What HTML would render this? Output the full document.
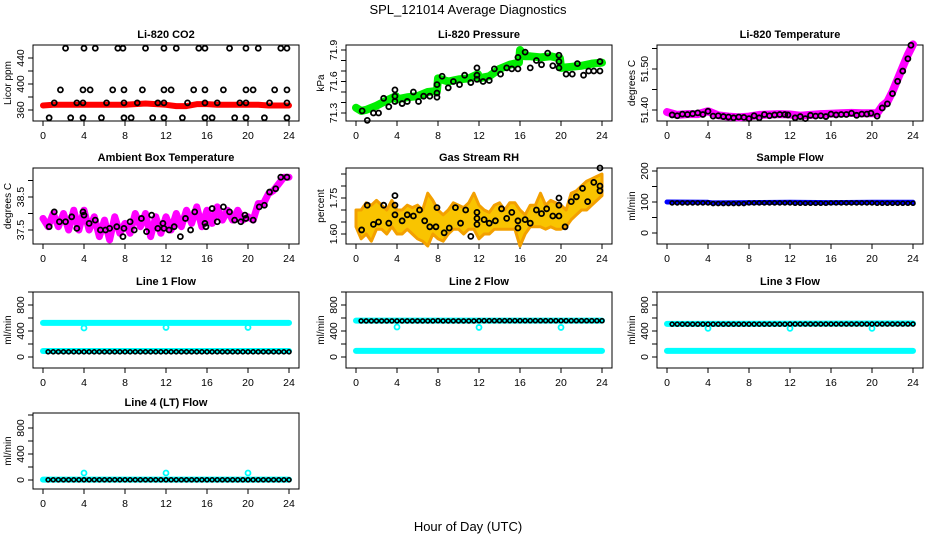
<!DOCTYPE html>
<html><head><meta charset="utf-8">
<style>
html,body{margin:0;padding:0;background:#fff;}
svg{display:block;font-family:"Liberation Sans",sans-serif;}
</style></head>
<body>
<svg id="chart" width="936" height="540" viewBox="0 0 936 540" xmlns="http://www.w3.org/2000/svg">
<rect x="0" y="0" width="936" height="540" fill="#fff"/>
<text x="468" y="14" text-anchor="middle" font-size="13">SPL_121014  Average Diagnostics</text>
<text x="468" y="531" text-anchor="middle" font-size="13">Hour of Day (UTC)</text>
</svg>
<script>
// ---------- data ----------
const xTicks=[0,4,8,12,16,20,24];
// CO2
const co2BandHours=[0,1,2,3,4,5,6,7,8,9,10,11,12,13,14,15,16,17,18,19,20,21,22,23,24];
const co2BandVals=[367,368,368,368,368,368,368,368,368,369,370,369,368,366,366,369,369,368,368,368,368,368,367,367,367];
const co2PtHours=[2.2,4,5.1,7.3,7.8,10,11.8,13,15.2,15.8,18.2,19.8,21,23.2,23.8,
 1.7,3.9,4.6,6.8,7.9,9.7,11.8,12.5,14.7,15.8,17.6,19.8,20.5,22.6,23.8,
 1.1,3.3,3.9,6.2,7.9,9.2,11.2,11.8,14.1,15.8,17,19.2,19.8,22.1,23.8,
 0.6,2.7,3.9,5.7,7.9,8.6,10.7,11.8,13.6,15.8,16.5,18.7,19.8,21.6,23.8];
const co2PtVals=[455,455,455,455,455,455,455,455,455,455,455,455,455,455,455,
 391,391,391,391,391,391,391,391,391,391,391,391,391,391,391,
 371,371,371,371,371,371,371,371,371,371,371,371,371,371,371,
 348,348,348,348,348,348,348,348,348,348,348,348,348,348,348];
// Pressure
const presBandHours=[0,0.5,1,2,3,3.9,4,5,6,7,7.9,8,9,10,11,11.9,12,13,14,15,15.9,16,16.5,17,18,19,19.9,20,21,22,23,24];
const presBandVals=[71.35,71.32,71.33,71.37,71.42,71.46,71.43,71.45,71.46,71.50,71.51,71.63,71.60,71.62,71.63,71.67,71.63,71.65,71.72,71.76,71.78,71.90,71.84,71.84,71.83,71.84,71.82,71.73,71.74,71.75,71.77,71.78];
const presPtHours=[0.6,1.1,1.7,2.2,2.7,3.2,3.8,3.8,3.8,4.5,5,5.6,6.1,6.6,7.2,7.9,7.9,7.9,8.4,9,9.5,10.1,10.6,11.2,11.8,11.8,11.8,12.4,13,13.5,14.1,14.7,15.2,15.8,15.8,16.5,17,17.6,18.1,18.7,19.2,19.8,19.8,19.8,20.5,21.1,21.6,22.2,22.7,23.2,23.8,23.8];
const presPtVals=[71.32,71.23,71.30,71.30,71.44,71.36,71.52,71.46,71.41,71.39,71.41,71.50,71.41,71.46,71.46,71.57,71.49,71.45,71.65,71.54,71.60,71.57,71.66,71.59,71.73,71.66,71.62,71.60,71.61,71.72,71.67,71.73,71.72,71.83,71.72,71.88,71.73,71.80,71.76,71.87,71.75,71.85,71.79,71.73,71.67,71.67,71.77,71.66,71.70,71.70,71.70,71.79];
// Li-820 temperature
const tempBandHours=[0,1,2,3,4,5,6,7,8,9,10,11,12,13,14,15,16,17,18,19,20,20.5,21,21.5,22,22.5,23,23.5,24];
const tempBandVals=[51.395,51.388,51.39,51.39,51.397,51.387,51.384,51.382,51.384,51.388,51.389,51.39,51.389,51.386,51.388,51.39,51.391,51.392,51.393,51.392,51.392,51.392,51.41,51.42,51.445,51.475,51.505,51.535,51.56];
const tempPtHours=[0.5,1,1.5,2,2.5,3,3.5,4,4.5,5,5.5,6,6.5,7,7.5,8,8.5,9,9.5,10,10.5,11,11.5,11.8,12.5,13,13.5,14,14.5,15,15.5,16,16.5,17,17.5,18,18.5,19,19.5,19.9,20.5,21,21.5,22,22.5,23,23.5,23.8];
const tempPtVals=[51.388,51.386,51.39,51.389,51.391,51.393,51.389,51.397,51.385,51.386,51.384,51.383,51.381,51.383,51.382,51.379,51.386,51.381,51.389,51.386,51.388,51.389,51.389,51.388,51.381,51.384,51.379,51.387,51.385,51.386,51.384,51.39,51.388,51.389,51.389,51.392,51.387,51.39,51.39,51.392,51.385,51.405,51.415,51.44,51.47,51.495,51.525,51.558];
// Ambient
const ambBandHours=[0,0.5,1,1.5,2,2.5,3,3.5,4,4.5,5,5.5,6,6.5,7,7.5,8,8.5,9,9.5,10,10.5,11,11.5,12,12.5,13,13.5,14,14.5,15,15.5,16,16.5,17,17.5,18,18.5,19,19.5,20,20.5,21,21.5,22,22.5,23,23.5,24];
const ambBandVals=[37.85,37.6,38.0,37.6,38.0,37.5,38.1,37.5,38.1,37.5,37.9,37.3,37.8,37.2,37.9,37.4,37.7,37.4,38.0,37.6,38.0,37.3,37.9,37.4,37.9,37.5,38.0,37.6,38.1,37.7,38.2,37.6,38.1,37.7,38.2,37.8,38.1,37.8,38.1,37.8,37.9,37.8,38.3,38.3,38.6,38.7,38.9,39.1,39.1];
const ambPtHours=[0.6,1.1,1.6,2.2,2.8,3.3,3.9,4,4.5,5.1,5.6,6.1,6.5,7.2,7.8,7.9,8.5,8.9,9.6,10.1,10.6,11.2,11.7,11.8,12.3,12.8,13.4,13.9,14.4,14.8,15.8,15.9,16.5,17,17.6,18.2,18.7,19.3,19.7,19.8,20.5,21.1,21.6,22.1,22.7,23.2,23.8];
const ambPtVals=[37.6,38.05,37.75,37.75,37.9,37.55,38.05,37.95,37.7,37.8,37.5,37.5,37.55,37.6,37.3,37.55,37.75,37.5,37.85,37.45,37.95,37.55,37.7,37.55,37.5,37.6,37.3,37.85,37.5,38.05,37.7,37.6,38.15,37.75,38.2,38.05,37.8,37.75,37.95,37.85,37.8,38.2,38.25,38.65,38.75,39.1,39.1];
// Gas stream RH
const rhBandHours=[0,0.5,1,1.5,2,2.5,3,3.5,4,4.5,5,5.5,6,6.5,7,7.5,8,8.5,9,9.5,10,10.5,11,11.5,12,12.5,13,13.5,14,14.5,15,15.5,16,16.5,17,17.5,18,18.5,19,19.5,20,20.5,21,21.5,22,22.5,23,23.5,24];
const rhBandHi=[1.70,1.70,1.73,1.72,1.74,1.72,1.70,1.74,1.70,1.70,1.72,1.71,1.72,1.70,1.77,1.74,1.70,1.68,1.70,1.73,1.72,1.71,1.73,1.77,1.72,1.70,1.69,1.72,1.73,1.70,1.73,1.73,1.70,1.68,1.72,1.72,1.77,1.72,1.74,1.73,1.72,1.70,1.77,1.78,1.80,1.82,1.83,1.84,1.85];
const rhBandLo=[1.63,1.58,1.60,1.57,1.62,1.62,1.60,1.63,1.60,1.60,1.62,1.60,1.58,1.57,1.55,1.60,1.58,1.57,1.60,1.62,1.62,1.60,1.62,1.62,1.58,1.60,1.60,1.62,1.62,1.62,1.62,1.62,1.55,1.60,1.63,1.63,1.63,1.62,1.63,1.62,1.62,1.63,1.66,1.68,1.70,1.70,1.72,1.74,1.76];
const rhPtHours=[0.55,1.1,1.7,2.2,2.7,3.2,3.8,3.8,3.8,4.5,5,5.6,6.2,6.7,7.2,7.8,7.9,8.6,9.1,9.7,10.2,10.7,11.2,11.8,11.8,11.8,12.5,13,13.6,14.2,14.7,15.2,15.8,15.8,16.5,17,17.6,18.1,18.6,19.2,19.8,19.8,19.8,20.4,21,21.5,22.1,22.6,23.2,23.8,23.8,23.8];
const rhPtVals=[1.617,1.72,1.64,1.65,1.72,1.645,1.76,1.72,1.68,1.655,1.68,1.675,1.70,1.655,1.63,1.63,1.71,1.605,1.625,1.71,1.645,1.70,1.59,1.69,1.665,1.64,1.66,1.645,1.655,1.705,1.665,1.69,1.655,1.625,1.66,1.645,1.70,1.685,1.705,1.675,1.75,1.72,1.675,1.63,1.735,1.755,1.79,1.735,1.815,1.875,1.80,1.78];
// Flows (48 half-hour samples)
const flowHours=[0.5,1,1.5,2,2.5,3,3.5,4,4.5,5,5.5,6,6.5,7,7.5,8,8.5,9,9.5,10,10.5,11,11.5,12,12.5,13,13.5,14,14.5,15,15.5,16,16.5,17,17.5,18,18.5,19,19.5,20,20.5,21,21.5,22,22.5,23,23.5,24];
const sampleBandHours=[0,4,4.5,8,12,16,20,24];
const sampleBandVals=[100,99,97,98,99,98,99,99];
const sampleVals=[97,97,97,97,97,97,97,97,95,95,95,95,95,95,95,97,97,97,97,97,97,97,97,97,96,96,96,96,96,96,96,97,97,97,97,97,97,97,97,97,96,96,96,96,96,96,96,96];
const dipHours=[4,12,20];
const line1HiHours=[0,24];const line1HiVals=[525,525];
const line1LoHours=[0,24];const line1LoVals=[92,92];
const line1Dips=[446,455,455];
const line1Vals=[80,80,80,80,80,80,80,80,80,80,80,80,80,80,80,80,80,80,80,80,80,80,80,80,80,80,80,80,80,80,80,80,80,80,80,80,80,80,80,80,80,80,80,80,80,80,80,80];
const line2HiHours=[0,24];const line2HiVals=[560,560];
const line2LoHours=[0,24];const line2LoVals=[95,95];
const line2Dips=[461,455,455];
const line2Vals=[555,555,555,555,555,555,555,555,555,555,555,555,555,555,555,558,555,555,555,555,555,555,555,558,558,558,558,558,558,558,558,558,558,558,558,558,558,558,558,558,558,558,558,558,558,558,558,558];
const line3HiHours=[0,24];const line3HiVals=[510,515];
const line3LoHours=[0,24];const line3LoVals=[95,95];
const line3Dips=[440,440,440];
const line3Vals=[505,505,505,505,505,505,505,505,505,505,505,505,505,505,505,505,505,505,505,505,505,505,505,507,507,507,507,507,507,507,507,507,507,507,507,507,507,507,507,507,507,507,507,507,507,507,507,507];
const line4HiHours=[0,24];const line4HiVals=[5,5];
const line4Dips=[108,108,108];
const line4Vals=[3,3,3,3,3,3,3,3,3,3,3,3,3,3,3,3,3,3,3,3,3,3,3,3,3,3,3,3,3,3,3,3,3,3,3,3,3,3,3,3,3,3,3,3,3,3,3,3];
const flowTicks=[0,200,400,600,800,1000];const flowLabels=[0,400,800];

// ---------- drawing ----------
const NS='http://www.w3.org/2000/svg';
const svg=document.getElementById('chart');
function mk(tag,attrs,parent){const e=document.createElementNS(NS,tag);for(const k in attrs)e.setAttribute(k,attrs[k]);(parent||svg).appendChild(e);return e;}
const BW=266,BH=76;
function panel(c){
  const g=mk('g',{});
  
  
  const X=h=>c.x0+10+h*10.25;
  const Y=v=>c.p1+(v-c.v1)*(c.p2-c.p1)/(c.v2-c.v1);
  const axes=mk('g',{stroke:'#000','stroke-width':1,fill:'none'},g);
  const box=mk('rect',{x:c.x0,y:c.y0,width:BW,height:BH},axes);
  
  
  const bot=c.y0+BH;
  xTicks.forEach(t=>{
    mk('line',{x1:X(t),x2:X(t),y1:bot,y2:bot+5},axes);
    const tx=mk('text',{x:X(t),y:bot+18,'text-anchor':'middle','font-size':10.5},g);
    tx.textContent=t;
    
    
  });
  c.ticks.forEach(t=>{const yy=Y(t);if(yy<c.y0-1||yy>bot+1)return;mk('line',{x1:c.x0-5,x2:c.x0,y1:yy,y2:yy},axes);});
  c.labels.forEach(t=>{
    const yy=Y(t),xx=c.x0-9;
    const tx=mk('text',{x:xx,y:yy,transform:`rotate(-90 ${xx} ${yy})`,'text-anchor':'middle','font-size':10.5},g);
    tx.textContent=c.fmt?t.toFixed(c.fmt):t;
    
    
  });
  const ly=c.y0+BH/2,lx=c.x0-22;
  const yl=mk('text',{x:lx,y:ly,transform:`rotate(-90 ${lx} ${ly})`,'text-anchor':'middle','font-size':10},g);
  yl.textContent=c.ylab;
  
  
  const ti=mk('text',{x:c.x0+BW/2,y:c.y0-7,'text-anchor':'middle','font-size':11,'font-weight':'bold'},g);
  ti.textContent=c.title;
  
  
  return {g,X,Y};
}
function band(p,hs,vs,color,w,name){
  const pl=mk('polyline',{points:hs.map((h,i)=>p.X(h)+','+p.Y(vs[i])).join(' '),fill:'none',stroke:color,'stroke-width':w,'stroke-linejoin':'round','stroke-linecap':'round'},p.g);
  
  
}
function pts(p,hs,vs,color,r,sw,name){
  hs.forEach((h,i)=>{
    const c=mk('circle',{cx:p.X(h),cy:p.Y(vs[i]),r:r,fill:'none',stroke:color,'stroke-width':sw},p.g);
    
    
  });
}

// Row 1
let p=panel({name:'co2-panel',x0:33,y0:45,v1:360,p1:110,v2:440,p2:58,ticks:[360,380,400,420,440],labels:[360,400,440],ylab:'Licor ppm',title:'Li-820 CO2'});
band(p,co2BandHours,co2BandVals,'#ff0000',6,'co2-band');
pts(p,co2PtHours,co2PtVals,'#000',2.5,1.8,'co2-point');

p=panel({name:'pressure-panel',x0:346,y0:45,v1:71.3,p1:113,v2:71.9,p2:50,ticks:[71.3,71.4,71.5,71.6,71.7,71.8,71.9],labels:[71.3,71.6,71.9],fmt:1,ylab:'kPa',title:'Li-820 Pressure'});
band(p,presBandHours,presBandVals,'#00ee00',8,'pressure-band');
pts(p,presPtHours,presPtVals,'#000',2.5,1.8,'pressure-point');

p=panel({name:'temperature-panel',x0:657,y0:45,v1:51.40,p1:110,v2:51.50,p2:69,ticks:[51.40,51.45,51.50,51.55],labels:[51.40,51.50],fmt:2,ylab:'degrees C',title:'Li-820 Temperature'});
band(p,tempBandHours,tempBandVals,'#ff00ff',8,'temperature-band');
pts(p,tempPtHours,tempPtVals,'#000',2.5,1.8,'temperature-point');

// Row 2
p=panel({name:'ambient-panel',x0:33,y0:168,v1:37.5,p1:230,v2:38.5,p2:197,ticks:[37.5,38,38.5,39],labels:[37.5,38.5],fmt:1,ylab:'degrees C',title:'Ambient Box Temperature'});
band(p,ambBandHours,ambBandVals,'#ff00ff',7,'ambient-band');
pts(p,ambPtHours,ambPtVals,'#000',2.5,1.8,'ambient-point');

p=panel({name:'rh-panel',x0:346,y0:168,v1:1.60,p1:234,v2:1.75,p2:198,ticks:[1.60,1.65,1.70,1.75,1.80,1.85],labels:[1.60,1.75],fmt:2,ylab:'percent',title:'Gas Stream RH'});
(function(){
  const up=rhBandHours.map((h,i)=>p.X(h)+','+p.Y(rhBandHi[i]));
  const dn=rhBandHours.map((h,i)=>p.X(h)+','+p.Y(rhBandLo[i])).reverse();
  const pg=mk('polygon',{points:up.concat(dn).join(' '),fill:'#f9c400',stroke:'#f3a000','stroke-width':3,'stroke-linejoin':'round'},p.g);
  
  
})();
pts(p,rhPtHours,rhPtVals,'#000',2.5,1.8,'rh-point');

p=panel({name:'sample-flow-panel',x0:657,y0:168,v1:0,p1:233,v2:200,p2:171,ticks:[0,50,100,150,200],labels:[0,100,200],ylab:'ml/min',title:'Sample Flow'});
band(p,sampleBandHours,sampleBandVals,'#0000ff',5,'sample-band');
pts(p,flowHours,sampleVals,'#000',2,1.6,'sample-point');

// Row 3
p=panel({name:'line1-panel',x0:33,y0:292,v1:0,p1:357,v2:800,p2:305,ticks:flowTicks,labels:flowLabels,ylab:'ml/min',title:'Line 1 Flow'});
band(p,line1HiHours,line1HiVals,'#00ffff',6,'line1-high-band');
band(p,line1LoHours,line1LoVals,'#00ffff',6,'line1-low-band');
pts(p,dipHours,line1Dips,'#00ffff',2.5,1.8,'line1-dip');
pts(p,flowHours,line1Vals,'#000',2,1.6,'line1-point');

p=panel({name:'line2-panel',x0:346,y0:292,v1:0,p1:357,v2:800,p2:305,ticks:flowTicks,labels:flowLabels,ylab:'ml/min',title:'Line 2 Flow'});
band(p,line2HiHours,line2HiVals,'#00ffff',6,'line2-high-band');
band(p,line2LoHours,line2LoVals,'#00ffff',6,'line2-low-band');
pts(p,dipHours,line2Dips,'#00ffff',2.5,1.8,'line2-dip');
pts(p,flowHours,line2Vals,'#000',2,1.6,'line2-point');

p=panel({name:'line3-panel',x0:657,y0:292,v1:0,p1:357,v2:800,p2:305,ticks:flowTicks,labels:flowLabels,ylab:'ml/min',title:'Line 3 Flow'});
band(p,line3HiHours,line3HiVals,'#00ffff',6,'line3-high-band');
band(p,line3LoHours,line3LoVals,'#00ffff',6,'line3-low-band');
pts(p,dipHours,line3Dips,'#00ffff',2.5,1.8,'line3-dip');
pts(p,flowHours,line3Vals,'#000',2,1.6,'line3-point');

// Row 4
p=panel({name:'line4-panel',x0:33,y0:413,v1:0,p1:480,v2:800,p2:428,ticks:flowTicks,labels:flowLabels,ylab:'ml/min',title:'Line 4 (LT) Flow'});
band(p,line4HiHours,line4HiVals,'#00ffff',6,'line4-band');
pts(p,dipHours,line4Dips,'#00ffff',2.5,1.8,'line4-dip');
pts(p,flowHours,line4Vals,'#000',2,1.6,'line4-point');
</script>
</body></html>
